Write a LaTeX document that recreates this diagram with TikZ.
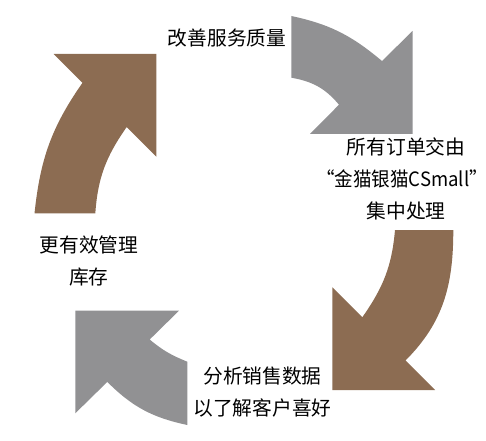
\documentclass[tikz,border=0pt]{standalone}
\usepackage{fontspec}
\setmainfont{Noto Sans CJK SC}
\usepackage{graphicx}
\usepackage{tikz}
\definecolor{arrowbrown}{RGB}{140,108,82}
\definecolor{arrowgray}{RGB}{145,145,147}

\begin{document}
\begin{tikzpicture}[x=0.75pt,y=0.75pt,
  txt/.style={align=center,inner sep=0pt,font=\fontsize{14.8}{24}\selectfont}]
  \useasboundingbox (0,0) rectangle (486,440);
  \fill[arrowbrown] (34.5,226.5) to[out=84,in=235] (82.5,357.2) -- (53.7,386) -- (156.3,386)
    -- (156.3,283.4) -- (126.7,313) to[out=235,in=86] (95.3,226.5) -- cycle;
  \fill[arrowgray] (291.3,424) to[out=-12,in=140] (382,379) -- (412.5,409) -- (412.5,306)
    -- (310,306) -- (339,335.3) to[out=130,in=-10] (291.3,362.3) -- cycle;
  \fill[arrowbrown] (453.3,210) to[out=-90,in=45] (405.5,79.5) -- (435,50) -- (332.3,50)
    -- (332.3,152.7) -- (362.3,122.7) to[out=55,in=265] (395,210) -- cycle;
  \fill[arrowgray] (187.3,15) to[out=168,in=-45] (107.3,58.1) -- (75.3,26.7) -- (75.3,129.3)
    -- (179,129.3) -- (149.7,100.5) to[out=-40,in=158] (187.3,78.3) -- cycle;
  \node[txt] (quality) at (227,402) {改善服务质量};
  \node[txt] (orders) at (406,261) {所有订单交由\\\hspace*{-6pt}\scalebox{0.94}[1]{“金猫银猫CSmall”}\\集中处理};
  \node[txt] (analyze) at (262.5,48) {分析销售数据\\以了解客户喜好};
  \node[txt] (stock) at (89,178.5) {更有效管理\\库存};
\end{tikzpicture}
\end{document}
